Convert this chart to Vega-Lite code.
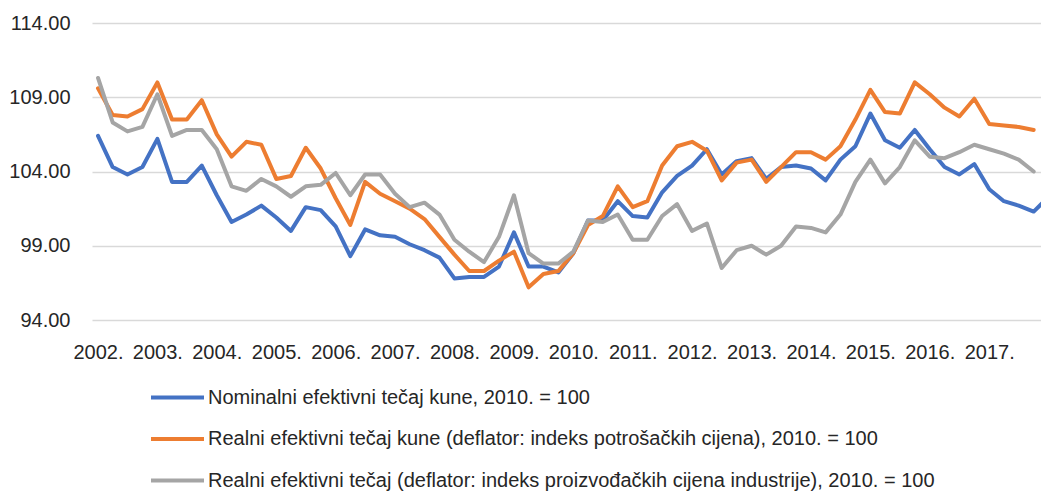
{
  "$schema": "https://vega.github.io/schema/vega-lite/v6.json",
  "autosize": "none",
  "width": 949,
  "height": 297,
  "padding": {"left": 92, "top": 23, "right": 0, "bottom": 171},
  "background": "white",
  "config": {
    "view": {"stroke": null},
    "font": "Liberation Sans"
  },
  "data": {
    "values": [
      {"d":"2002-01-01","nom":106.4,"cpi":109.6,"ppi":110.3},
      {"d":"2002-04-01","nom":104.3,"cpi":107.8,"ppi":107.3},
      {"d":"2002-07-01","nom":103.8,"cpi":107.7,"ppi":106.7},
      {"d":"2002-10-01","nom":104.3,"cpi":108.2,"ppi":107.0},
      {"d":"2003-01-01","nom":106.2,"cpi":110.0,"ppi":109.2},
      {"d":"2003-04-01","nom":103.3,"cpi":107.5,"ppi":106.4},
      {"d":"2003-07-01","nom":103.3,"cpi":107.5,"ppi":106.8},
      {"d":"2003-10-01","nom":104.4,"cpi":108.8,"ppi":106.8},
      {"d":"2004-01-01","nom":102.4,"cpi":106.5,"ppi":105.5},
      {"d":"2004-04-01","nom":100.6,"cpi":105.0,"ppi":103.0},
      {"d":"2004-07-01","nom":101.1,"cpi":106.0,"ppi":102.7},
      {"d":"2004-10-01","nom":101.7,"cpi":105.8,"ppi":103.5},
      {"d":"2005-01-01","nom":100.9,"cpi":103.5,"ppi":103.0},
      {"d":"2005-04-01","nom":100.0,"cpi":103.7,"ppi":102.3},
      {"d":"2005-07-01","nom":101.6,"cpi":105.6,"ppi":103.0},
      {"d":"2005-10-01","nom":101.4,"cpi":104.2,"ppi":103.1},
      {"d":"2006-01-01","nom":100.3,"cpi":102.2,"ppi":103.9},
      {"d":"2006-04-01","nom":98.3,"cpi":100.4,"ppi":102.4},
      {"d":"2006-07-01","nom":100.1,"cpi":103.3,"ppi":103.8},
      {"d":"2006-10-01","nom":99.7,"cpi":102.5,"ppi":103.8},
      {"d":"2007-01-01","nom":99.6,"cpi":102.0,"ppi":102.5},
      {"d":"2007-04-01","nom":99.1,"cpi":101.5,"ppi":101.6},
      {"d":"2007-07-01","nom":98.7,"cpi":100.8,"ppi":101.9},
      {"d":"2007-10-01","nom":98.2,"cpi":99.6,"ppi":101.1},
      {"d":"2008-01-01","nom":96.8,"cpi":98.4,"ppi":99.4},
      {"d":"2008-04-01","nom":96.9,"cpi":97.3,"ppi":98.6},
      {"d":"2008-07-01","nom":96.9,"cpi":97.3,"ppi":97.9},
      {"d":"2008-10-01","nom":97.6,"cpi":98.0,"ppi":99.6},
      {"d":"2009-01-01","nom":99.9,"cpi":98.6,"ppi":102.4},
      {"d":"2009-04-01","nom":97.6,"cpi":96.2,"ppi":98.5},
      {"d":"2009-07-01","nom":97.6,"cpi":97.1,"ppi":97.8},
      {"d":"2009-10-01","nom":97.2,"cpi":97.3,"ppi":97.8},
      {"d":"2010-01-01","nom":98.5,"cpi":98.5,"ppi":98.6},
      {"d":"2010-04-01","nom":100.7,"cpi":100.4,"ppi":100.7},
      {"d":"2010-07-01","nom":100.7,"cpi":101.0,"ppi":100.6},
      {"d":"2010-10-01","nom":102.0,"cpi":103.0,"ppi":101.1},
      {"d":"2011-01-01","nom":101.0,"cpi":101.6,"ppi":99.4},
      {"d":"2011-04-01","nom":100.9,"cpi":102.0,"ppi":99.4},
      {"d":"2011-07-01","nom":102.6,"cpi":104.4,"ppi":101.0},
      {"d":"2011-10-01","nom":103.7,"cpi":105.7,"ppi":101.8},
      {"d":"2012-01-01","nom":104.4,"cpi":106.0,"ppi":100.0},
      {"d":"2012-04-01","nom":105.5,"cpi":105.4,"ppi":100.5},
      {"d":"2012-07-01","nom":103.8,"cpi":103.4,"ppi":97.5},
      {"d":"2012-10-01","nom":104.7,"cpi":104.6,"ppi":98.7},
      {"d":"2013-01-01","nom":104.9,"cpi":104.8,"ppi":99.0},
      {"d":"2013-04-01","nom":103.5,"cpi":103.3,"ppi":98.4},
      {"d":"2013-07-01","nom":104.3,"cpi":104.3,"ppi":99.0},
      {"d":"2013-10-01","nom":104.4,"cpi":105.3,"ppi":100.3},
      {"d":"2014-01-01","nom":104.2,"cpi":105.3,"ppi":100.2},
      {"d":"2014-04-01","nom":103.4,"cpi":104.8,"ppi":99.9},
      {"d":"2014-07-01","nom":104.8,"cpi":105.7,"ppi":101.1},
      {"d":"2014-10-01","nom":105.7,"cpi":107.5,"ppi":103.3},
      {"d":"2015-01-01","nom":107.9,"cpi":109.5,"ppi":104.8},
      {"d":"2015-04-01","nom":106.1,"cpi":108.0,"ppi":103.2},
      {"d":"2015-07-01","nom":105.6,"cpi":107.9,"ppi":104.3},
      {"d":"2015-10-01","nom":106.8,"cpi":110.0,"ppi":106.1},
      {"d":"2016-01-01","nom":105.5,"cpi":109.2,"ppi":105.0},
      {"d":"2016-04-01","nom":104.3,"cpi":108.3,"ppi":104.9},
      {"d":"2016-07-01","nom":103.8,"cpi":107.7,"ppi":105.3},
      {"d":"2016-10-01","nom":104.5,"cpi":108.9,"ppi":105.8},
      {"d":"2017-01-01","nom":102.8,"cpi":107.2,"ppi":105.5},
      {"d":"2017-04-01","nom":102.0,"cpi":107.1,"ppi":105.2},
      {"d":"2017-07-01","nom":101.7,"cpi":107.0,"ppi":104.8},
      {"d":"2017-10-01","nom":101.3,"cpi":106.8,"ppi":104.0},
      {"d":"2018-01-01","nom":102.3}
    ]
  },
  "transform": [
    {"fold": ["nom", "cpi", "ppi"], "as": ["series", "value"]},
    {"filter": "isValid(datum.value)"}
  ],
  "mark": {"type": "line", "strokeWidth": 4, "clip": true, "strokeJoin": "round", "strokeCap": "round"},
  "encoding": {
    "x": {
      "field": "d",
      "type": "temporal",
      "scale": {
        "type": "utc",
        "domain": [
          {"year": 2001, "month": 11, "date": 25, "utc": true},
          {"year": 2017, "month": 11, "date": 15, "utc": true}
        ]
      },
      "axis": {
        "title": null,
        "tickCount": {"interval": "year", "step": 1},
        "labelExpr": "utcFormat(datum.value, '%Y') + '.'",
        "grid": false,
        "domain": false,
        "ticks": false,
        "labelFont": "Liberation Sans",
        "labelFontSize": 20,
        "labelColor": "#262626",
        "labelPadding": 22,
        "labelFlush": false,
        "labelOverlap": false
      }
    },
    "y": {
      "field": "value",
      "type": "quantitative",
      "scale": {"domain": [94, 114], "nice": false, "zero": false},
      "axis": {
        "title": null,
        "values": [94, 99, 104, 109, 114],
        "format": ".2f",
        "domain": false,
        "ticks": false,
        "gridColor": "#d9d9d9",
        "gridWidth": 1.5,
        "labelFont": "Liberation Sans",
        "labelFontSize": 20,
        "labelColor": "#262626",
        "labelPadding": 22
      }
    },
    "color": {
      "field": "series",
      "type": "nominal",
      "sort": ["nom", "cpi", "ppi"],
      "scale": {"domain": ["nom", "cpi", "ppi"], "range": ["#4472C4", "#ED7D31", "#A5A5A5"]},
      "legend": {
        "title": null,
        "orient": "none",
        "legendX": 57,
        "legendY": 346,
        "direction": "vertical",
        "symbolType": "stroke",
        "symbolSize": 2809,
        "symbolStrokeWidth": 4,
        "labelOffset": 2,
        "rowPadding": 2.5,
        "labelFont": "Liberation Sans",
        "labelFontSize": 20,
        "labelColor": "#262626",
        "labelLimit": 900,
        "labelExpr": "datum.label == 'nom' ? 'Nominalni efektivni tečaj kune, 2010. = 100' : datum.label == 'cpi' ? 'Realni efektivni tečaj kune (deflator: indeks potrošačkih cijena), 2010. = 100' : 'Realni efektivni tečaj (deflator: indeks proizvođačkih cijena industrije), 2010. = 100'"
      }
    }
  }
}
